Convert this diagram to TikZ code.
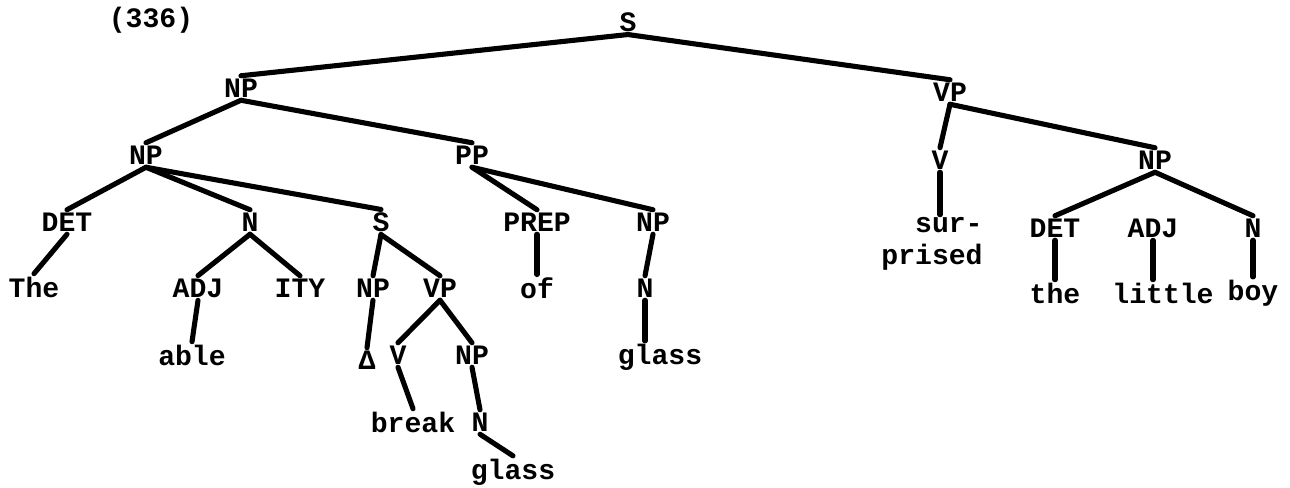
\documentclass[tikz,border=0pt]{standalone}
\usepackage{fontspec}
\setmonofont{Liberation Mono}
\usepackage{tikz}

\tikzset{lab/.style={font=\fontsize{16}{18}\selectfont\ttfamily\bfseries, inner sep=1.5pt},
	br/.style={line width=2.9pt, line cap=round}}

\begin{document}
\begin{tikzpicture}[x=0.02cm, y=-0.02cm]
	\useasboundingbox (0,0) rectangle (1290,487);
	\node[lab] (num) at (151,20) {(336)};
	% top levels
	\node[lab] (s) at (628,22) {S};
	\node[lab] (np1) at (241,88) {NP};
	\node[lab] (vp1) at (950,92) {VP};
	\node[lab] (np2) at (146,155) {NP};
	\node[lab] (pp) at (472,155) {PP};
	\node[lab] (v1) at (940,160) {V};
	\node[lab] (np5) at (1155,160) {NP};
	% third row
	\node[lab] (det1) at (67,222) {DET};
	\node[lab] (n1) at (250,222) {N};
	\node[lab] (s2) at (381,222) {S};
	\node[lab] (prep) at (537,222) {PREP};
	\node[lab] (np4) at (653,222) {NP};
	\node[lab, align=right] (surp) at (932,244) {sur-\\prised};
	\node[lab] (det2) at (1055,228) {DET};
	\node[lab] (adj2) at (1153,228) {ADJ};
	\node[lab] (n4) at (1253,228) {N};
	% fourth row
	\node[lab] (the1) at (34,287) {The};
	\node[lab] (adj1) at (198,288) {ADJ};
	\node[lab] (ity) at (300,288) {ITY};
	\node[lab] (np3) at (373,288) {NP};
	\node[lab] (vp2) at (440,288) {VP};
	\node[lab] (of) at (537,288) {of};
	\node[lab] (n3) at (645,288) {N};
	\node[lab] (the2) at (1055,293) {the};
	\node[lab] (little) at (1163,293) {little};
	\node[lab] (boy) at (1253,293) {boy};
	% lower rows
	\node[lab] (able) at (192,355) {able};
	\node[lab] (delta) at (367,360) {Δ};
	\node[lab] (v2) at (398,355) {V};
	\node[lab] (np6) at (472,355) {NP};
	\node[lab] (glass1) at (660,357) {glass};
	\node[lab] (break) at (413,422) {break};
	\node[lab] (n2) at (480,422) {N};
	\node[lab] (glass2) at (513,472) {glass};

	% branches
	\draw[br] (s.south) -- (np1.north);
	\draw[br] (s.south) -- (vp1.north);
	\draw[br] (np1.south) -- (np2.north);
	\draw[br] (np1.south) -- (pp.north);
	\draw[br] (np2.south) -- (det1.north);
	\draw[br] (np2.south) -- (n1.north);
	\draw[br] (np2.south) -- (s2.north);
	\draw[br] (det1.south) -- (the1.north);
	\draw[br] (n1.south) -- (adj1.north);
	\draw[br] (n1.south) -- (ity.north);
	\draw[br] (adj1.south) -- (able.north);
	\draw[br] (s2.south) -- (np3.north);
	\draw[br] (s2.south) -- (vp2.north);
	\draw[br] (np3.south) -- (delta.north);
	\draw[br] (vp2.south) -- (v2.north);
	\draw[br] (vp2.south) -- (np6.north);
	\draw[br] (v2.south) -- (break.north);
	\draw[br] (np6.south) -- (n2.north);
	\draw[br] (n2.south) -- (glass2.north);
	\draw[br] (pp.south) -- (prep.north);
	\draw[br] (pp.south) -- (np4.north);
	\draw[br] (prep.south) -- (of.north);
	\draw[br] (np4.south) -- (n3.north);
	\draw[br] (n3.south) -- (glass1.north -| n3.south);
	\draw[br] (vp1.south) -- (v1.north);
	\draw[br] (vp1.south) -- (np5.north);
	\draw[br] (v1.south) -- (v1.south |- surp.north);
	\draw[br] (np5.south) -- (det2.north);
	\draw[br] (np5.south) -- (n4.north);
	\draw[br] (det2.south) -- (the2.north);
	\draw[br] (adj2.south) -- (adj2.south |- little.north);
	\draw[br] (n4.south) -- (boy.north);
\end{tikzpicture}
\end{document}
